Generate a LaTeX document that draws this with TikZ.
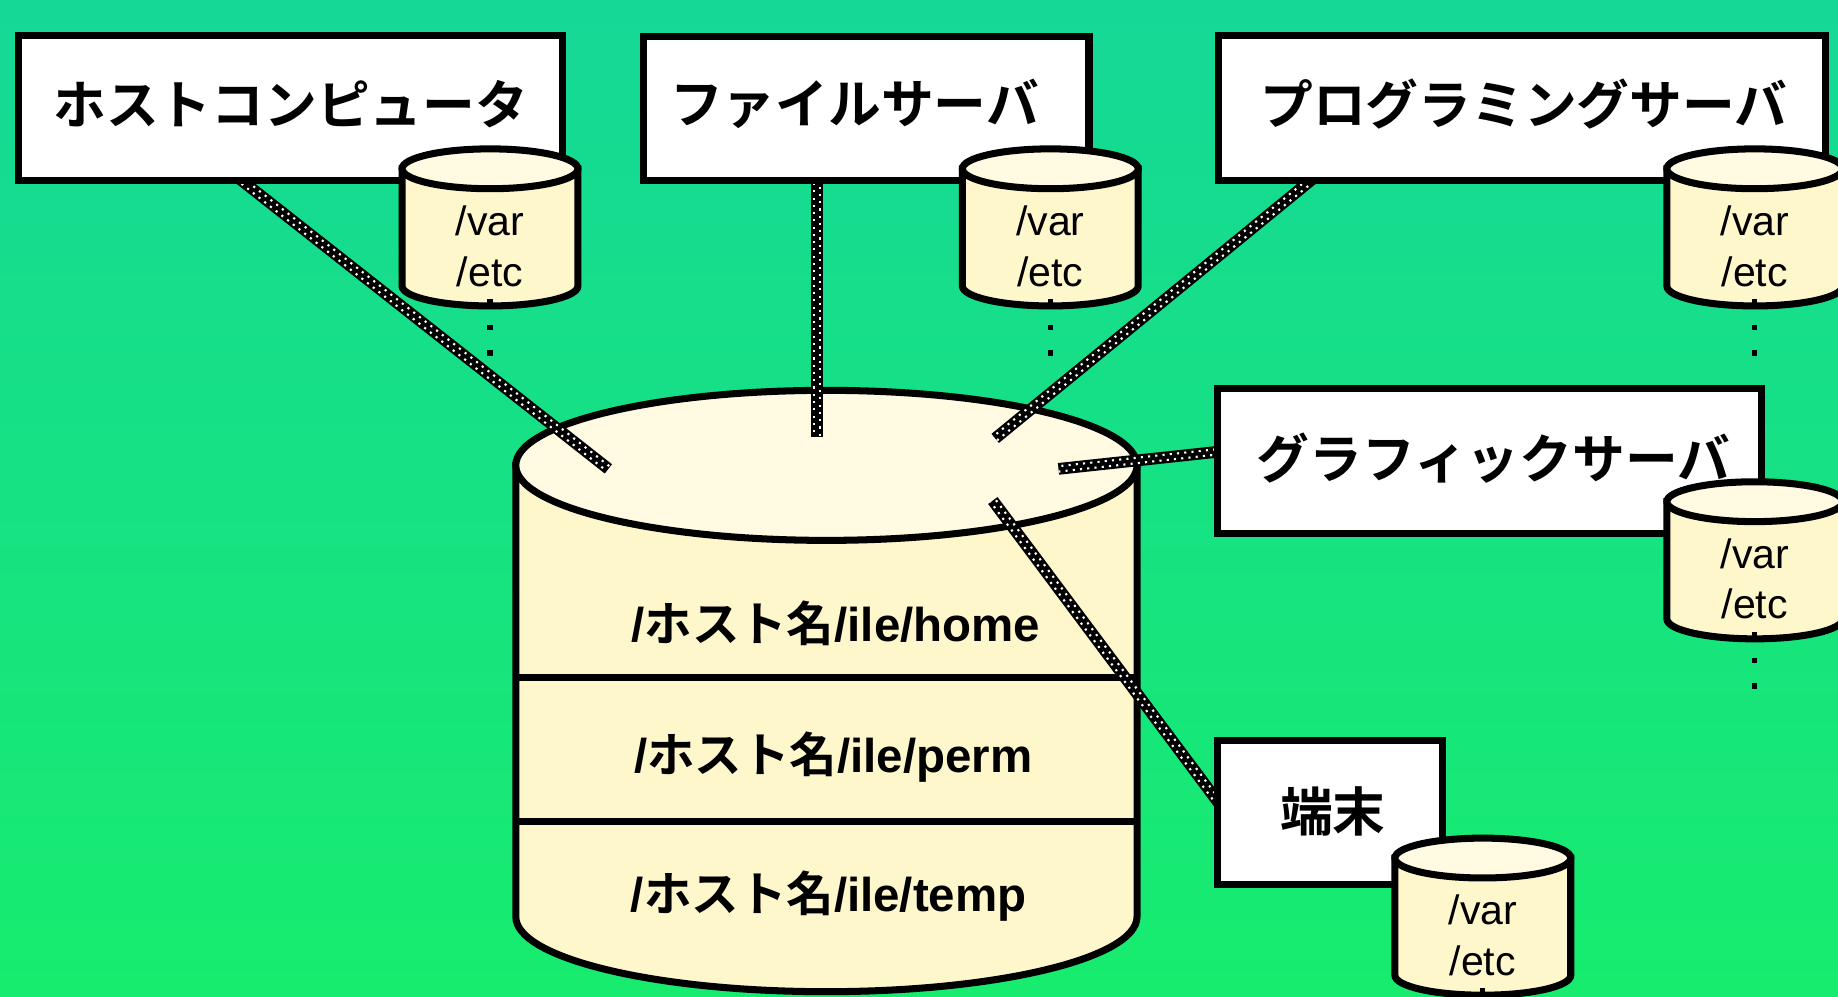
\documentclass[tikz,border=0pt]{standalone}
\usepackage{fontspec}
\setmainfont{Liberation Sans}
\newfontfamily\jpb{Noto Sans CJK JP Bold}
\usetikzlibrary{calc}
\pgfdeclarelayer{back}
\pgfdeclarelayer{mid}
\pgfsetlayers{back,mid,main}
\definecolor{bgtop}{HTML}{15D897}
\definecolor{bgbot}{HTML}{17EC6E}
\definecolor{cylbody}{HTML}{FFF7CC}
\definecolor{cyltop}{HTML}{FFFAE1}
\newcommand\dbcyl[3]{%
  \path[fill=cylbody, cyledge] (#2-75,#3) -- (#2-75,#3+100) arc[start angle=180,end angle=0,x radius=75,y radius=17] -- (#2+75,#3) -- cycle;
  \path[fill=cyltop, cyledge] (#2,#3) ellipse[x radius=75,y radius=17];
  \node[cyltext] (#1var) at (#2,#3+57) {/var};
  \node[cyltext] (#1etc) at (#2,#3+100) {/etc};
  \fill[black] (#2-2.2,#3+111) rectangle (#2+2.2,#3+115.5);
  \fill[black] (#2-2.2,#3+133) rectangle (#2+2.2,#3+137.5);
  \fill[black] (#2-2.2,#3+155) rectangle (#2+2.2,#3+159.5);
}
\newcommand\linkline[2]{%
  \draw[connblack] (#1) -- (#2);
  \draw[conndot] ($(#1)!2.3pt!90:(#2)$) -- ($(#2)!2.3pt!-90:(#1)$);
  \draw[conndot, dash phase=3.1pt] ($(#1)!2.3pt!-90:(#2)$) -- ($(#2)!2.3pt!90:(#1)$);
}
\begin{document}
\begin{tikzpicture}[x=1pt,y=-1pt,
  box/.style={draw=black, fill=white, line width=6pt, rectangle, inner sep=0pt},
  boxtext/.style={font=\jpb\fontsize{45}{54}\selectfont, inner sep=0pt},
  cyledge/.style={draw=black, line width=6pt},
  cyltext/.style={font=\fontsize{35}{42}\selectfont, inner sep=0pt, anchor=base},
  bigtext/.style={font=\fontsize{40.5}{48}\selectfont\bfseries, inner sep=0pt, anchor=base},
  connblack/.style={line width=10pt, draw=black},
  conndot/.style={draw=white, line width=1.8pt, dash pattern=on 1.8pt off 4.4pt}
]
\useasboundingbox (0,0) rectangle (1568,850);
\clip (0,0) rectangle (1568,850);

\begin{pgfonlayer}{back}
\shade[top color=bgtop, bottom color=bgbot] (0,0) rectangle (1568,850);
% big cylinder
\path[fill=cylbody, cyledge] (440,397) -- (440,782) arc[start angle=180,end angle=0,x radius=265,y radius=64] -- (970,397) -- cycle;
\path[fill=cyltop, cyledge] (705,397) ellipse[x radius=265,y radius=64];
\draw[line width=6pt] (440,578) -- (970,578);
\draw[line width=6pt] (440,701) -- (970,701);
\node[bigtext] (home) at (713,547) {/{\jpb\mdseries ホスト名}/ile/home};
\node[bigtext] (perm) at (711,659) {/{\jpb\mdseries ホスト名}/ile/perm};
\node[bigtext] (temp) at (707,778) {/{\jpb\mdseries ホスト名}/ile/temp};
\end{pgfonlayer}

% boxes
\node[box, minimum width=464pt, minimum height=123.5pt] (host) at (247.5,92.3) {};
\node[box, minimum width=380pt, minimum height=123pt] (file) at (739,92.5) {};
\node[box, minimum width=517.4pt, minimum height=123.4pt] (prog) at (1298.3,92.3) {};
\node[box, minimum width=464pt, minimum height=123.5pt] (graph) at (1271,393.3) {};
\node[box, minimum width=191.6pt, minimum height=122.7pt] (term) at (1134.8,693.4) {};

\node[boxtext] (hostlbl) at (248,89) {ホストコンピュータ};
\node[boxtext] (filelbl) at (729,89) {ファイルサーバ};
\node[boxtext] (proglbl) at (1300,89) {プログラミングサーバ};
\node[boxtext] (graphlbl) at (1274,391) {グラフィックサーバ};
\node[boxtext] (termlbl) at (1137,692) {端末};

% connector ends
\coordinate (s1) at ([xshift=-42.5pt,yshift=4pt]host.south);
\coordinate (s2) at ([xshift=-42pt,yshift=4pt]file.south);
\coordinate (s3) at ([xshift=-179pt,yshift=4pt]prog.south);
\coordinate (s4) at ([xshift=4pt,yshift=8pt]graph.west);
\coordinate (s5) at ([xshift=4pt,yshift=8pt]term.west);
\coordinate (e1) at (519,400);
\coordinate (e2) at (697,373);
\coordinate (e3) at (849,374);
\coordinate (e4) at (903,400);
\coordinate (e5) at (847,427);

\begin{pgfonlayer}{mid}
\linkline{s1}{e1}
\linkline{s2}{e2}
\linkline{s3}{e3}
\linkline{s4}{e4}
\linkline{s5}{e5}
\end{pgfonlayer}

% small cylinders
\dbcyl{hc}{418}{144}
\dbcyl{fc}{896}{144}
\dbcyl{pc}{1497}{144}
\dbcyl{gc}{1497}{428}
\dbcyl{tc}{1265}{732}
\end{tikzpicture}
\end{document}
